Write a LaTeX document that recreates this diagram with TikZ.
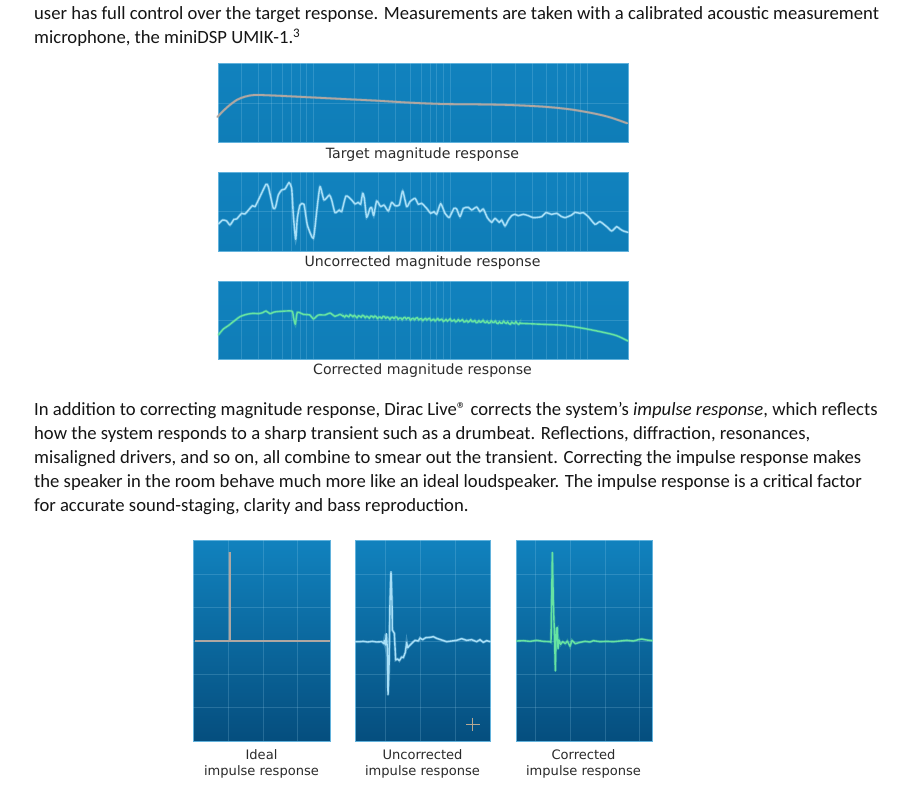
\documentclass[tikz,border=0pt]{standalone}
\usepackage{fontspec}
\setmainfont{Carlito}
\newfontfamily\capfont{DejaVu Sans}
\definecolor{inkc}{HTML}{151515}
\definecolor{capc}{HTML}{2A2A2A}
\definecolor{panelc}{HTML}{1182BE}
\definecolor{panelm}{HTML}{107FBA}
\definecolor{panellow}{HTML}{0F7DB7}
\definecolor{paneldark}{HTML}{054E7E}
\definecolor{edgec}{HTML}{62B2DC}
\definecolor{gridc}{HTML}{A8DCF4}
\definecolor{targetc}{HTML}{AFA7A2}
\definecolor{rawc}{HTML}{A8DFF7}
\definecolor{fixc}{HTML}{66E3A2}
\definecolor{plusc}{HTML}{B8A892}
\tikzset{
  zoomed/.style 2 args={shift={(#1,#2)},x=0.33333pt,y=-0.33333pt},
  magpanel/.style={top color=panelc,bottom color=panellow,draw=edgec,line width=.7pt},
  imppanel/.style={top color=panelc,middle color=panelm,bottom color=paneldark,draw=edgec,line width=.7pt},
  gridline/.style={draw=gridc,line width=.9pt,opacity=.2},
  curve/.style={draw=#1,line width=1.4pt,line join=round,line cap=round,preaction={draw=#1,opacity=.3,line width=2.8pt}},
  bodytext/.style={anchor=base west,inner sep=0pt,text=inkc,font=\fontsize{18.65}{22}\selectfont},
  captext/.style={anchor=base,inner sep=0pt,text=capc,font=\capfont\fontsize{14.12}{17}\selectfont},
  impcap/.style={anchor=base,inner sep=0pt,text=capc,font=\capfont\fontsize{13.05}{15}\selectfont}
}
\begin{document}
\begin{tikzpicture}[x=1pt,y=-1pt]
\useasboundingbox (0,0) rectangle (900,787);
\fill[white] (0,0) rectangle (900,787);

% body text
\node[bodytext] (l1) at (34,19.5) {user has full control over the target response. Measurements are taken with a calibrated acoustic measurement};
\node[bodytext] (l2) at (34,43.5) {microphone, the miniDSP UMIK-1.\textsuperscript{3}};
\node[bodytext] (p1) at (34,415.5) {In addition to correcting magnitude response, Dirac Live® corrects the system’s \textit{impulse response}, which reflects};
\node[bodytext] (p2) at (34,439.5) {how the system responds to a sharp transient such as a drumbeat. Reflections, diffraction, resonances,};
\node[bodytext] (p3) at (34,463.5) {misaligned drivers, and so on, all combine to smear out the transient. Correcting the impulse response makes};
\node[bodytext] (p4) at (34,487.5) {the speaker in the room behave much more like an ideal loudspeaker. The impulse response is a critical factor};
\node[bodytext] (p5) at (34,511.5) {for accurate sound-staging, clarity and bass reproduction.};

% magnitude panels
\foreach \top/\bot/\hy in {63/142/103, 172.5/251/211.7, 281/359/320.7}{
  \fill[magpanel] (218.3,\top) rectangle (628.7,\bot);
  \begin{scope}[zoomed={210}{55}]
    \foreach \gx in {95,145,185,218,245,270,290,310,433,505,557,600,633,660,680,700,722,843,915,968,1010,1042,1068,1092,1112,1132}
      \draw[gridline] (\gx,{(\top-55)*3}) -- (\gx,{(\bot-55)*3});
  \end{scope}
  \draw[gridline] (218.3,\hy) -- (628.7,\hy);
}

% target magnitude
\begin{scope}[zoomed={210}{55}]
\draw[curve=targetc,line width=1.8pt] plot[smooth,tension=.5] coordinates {(22,186)(50,158)(80,135)(105,125)(135,120)(200,122)(300,127)(400,132)(500,137)(600,143)(700,147)(800,148)(900,150)(1000,155)(1080,163)(1150,175)(1200,187)(1252,205)};
\end{scope}

% uncorrected magnitude
\begin{scope}[zoomed={210}{165}]
\draw[curve=rawc] plot[smooth,tension=.35] coordinates {(25,177)(38,165)(50,168)(60,180)(72,163)(80,162)(95,145)(105,147)(127,122)(135,125)(150,95)(168,58)(175,65)(190,130)(197,125)(205,90)(215,75)(225,72)(237,53)(245,70)(250,150)(257,223)(262,160)(270,120)(282,118)(292,180)(310,220)(320,140)(330,65)(342,105)(358,90)(365,105)(375,143)(388,135)(395,140)(408,93)(425,105)(435,117)(445,112)(452,118)(458,85)(463,100)(470,157)(480,130)(485,128)(491,152)(500,108)(512,125)(522,120)(535,138)(545,112)(555,122)(568,120)(578,78)(590,125)(600,110)(615,100)(625,118)(635,115)(650,130)(662,145)(672,140)(680,148)(692,116)(705,145)(717,158)(722,150)(732,130)(740,132)(750,155)(760,130)(775,127)(785,135)(800,126)(810,140)(820,132)(832,158)(845,172)(855,160)(868,172)(875,165)(885,183)(895,165)(905,152)(915,148)(925,152)(940,148)(955,152)(970,158)(995,155)(1008,143)(1025,148)(1040,145)(1055,155)(1065,158)(1085,150)(1095,142)(1110,145)(1120,143)(1135,155)(1155,178)(1170,170)(1190,185)(1205,198)(1220,185)(1230,192)(1240,198)(1254,202)};
\end{scope}

% corrected magnitude
\begin{scope}[zoomed={210}{275}]
\draw[curve=fixc] plot[smooth,tension=.35] coordinates {(25,180)(40,162)(55,152)(70,140)(90,125)(110,118)(130,115)(145,116)(158,113)(168,108)(180,116)(190,112)(200,110)(245,108)(250,125)(256,148)(262,112)(280,118)(300,120)(310,132)(325,120)(345,120)(360,114)(375,124)(390,118)(400,124)}
  -- plot[domain=0:530,samples=130,smooth] ({400+\x},{122+0.044*\x+3.6*sin(29*\x)+1.4*sin(11*\x)})
  -- plot[smooth,tension=.5] coordinates {(930,145)(1000,148)(1060,151)(1120,160)(1180,172)(1220,182)(1254,198)};
\end{scope}

% magnitude captions
\node[captext] (c1) at (422.5,158) {Target magnitude response};
\node[captext] (c2) at (422.5,266.3) {Uncorrected magnitude response};
\node[captext] (c3) at (422.5,374.8) {Corrected magnitude response};

% impulse panels
\fill[imppanel] (193.3,540) rectangle (330,741);
\fill[imppanel] (355,540) rectangle (490.7,741);
\fill[imppanel] (516,540) rectangle (652.7,741);
\begin{scope}[zoomed={185}{535}]
  \foreach \gx in {130,235,337} \draw[gridline] (\gx,15) -- (\gx,618);
  \foreach \gy in {117,218,318,418,518} \draw[gridline] (25,\gy) -- (435,\gy);
  \foreach \gx in {602,705,812} \draw[gridline] (\gx,15) -- (\gx,618);
  \foreach \gy in {117,218,318,418,518} \draw[gridline] (510,\gy) -- (917,\gy);
  % ideal
  \draw[curve=targetc,line width=1.9pt,line cap=butt] (30,318) -- (434,318);
  \draw[curve=targetc,line width=1.9pt,line cap=butt] (134,318) -- (134,52);
  % uncorrected
  \draw[curve=rawc] (511,320) -- (525,320) -- (535,319) -- (548,321) -- (562,319) -- (575,321) -- (590,320)
    -- (596,326) -- (598,316) -- (601,330) -- (604,296) -- (607,340) -- (609,480) -- (612,400) -- (615,200) -- (618,110) -- (621,200) -- (622,285) -- (628,295) -- (632,375) -- (638,372) -- (643,377) -- (650,366) -- (655,368) -- (661,352) -- (665,322) -- (668,338) -- (680,325) -- (690,316) -- (700,318) -- (705,309) -- (713,314) -- (722,308) -- (735,307) -- (745,305) -- (755,310) -- (770,315) -- (785,320) -- (800,318) -- (815,316) -- (830,311) -- (845,316) -- (860,314) -- (875,320) -- (885,314) -- (895,322) -- (905,317) -- (916,320);
  % plus sign
  \draw[plusc,line width=.9pt] (843,568) -- (884,568) (863,548) -- (863,589);
\end{scope}
\begin{scope}[zoomed={490}{535}]
  \foreach \gx in {135,240,345,447} \draw[gridline] (\gx,15) -- (\gx,618);
  \foreach \gy in {117,218,318,418,518} \draw[gridline] (78,\gy) -- (488,\gy);
  \draw[curve=fixc] (80,318) -- (100,317) -- (120,319) -- (140,316) -- (160,319) -- (180,320) -- (183,322) -- (187,52) -- (190,200) -- (194,320) -- (196,408) -- (199,280) -- (202,278) -- (204,342) -- (207,315) -- (212,328) -- (218,320) -- (226,326) -- (232,318) -- (240,334) -- (246,316) -- (256,326) -- (270,322) -- (285,319) -- (300,321) -- (310,317) -- (330,320) -- (350,319) -- (370,320) -- (390,318) -- (410,316) -- (430,318) -- (445,314) -- (455,312) -- (470,315) -- (487,317);
\end{scope}

% impulse captions
\node[impcap] (i1a) at (261.5,759) {Ideal};
\node[impcap] (i1b) at (261.5,775.5) {impulse response};
\node[impcap] (i2a) at (422.5,759) {Uncorrected};
\node[impcap] (i2b) at (422.5,775.5) {impulse response};
\node[impcap] (i3a) at (583.5,759) {Corrected};
\node[impcap] (i3b) at (583.5,775.5) {impulse response};
\end{tikzpicture}
\end{document}
